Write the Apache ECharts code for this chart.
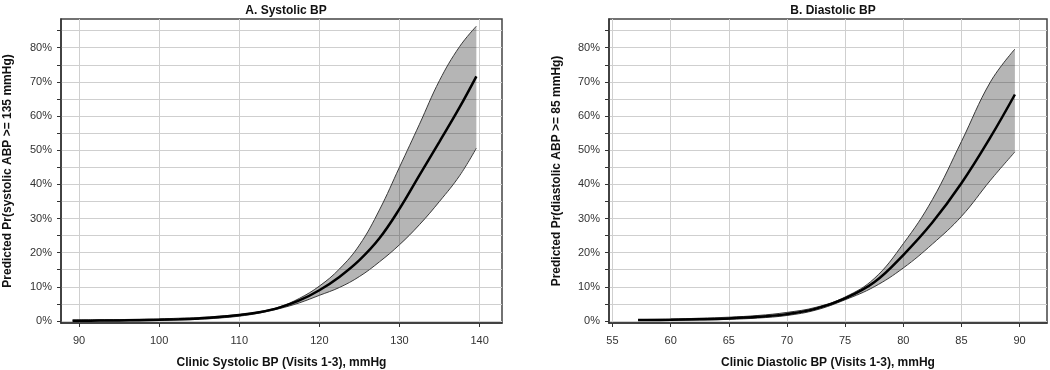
<!DOCTYPE html>
<html><head><meta charset="utf-8">
<script src="https://cdn.jsdelivr.net/npm/echarts@6/dist/echarts.min.js"></script>
<style>html,body{margin:0;padding:0;background:#fff}#c{width:1050px;height:370px}</style>
</head><body><div id="c"></div>
<script>
// Panel A: systolic
const sysX     = [89.2, 92.5, 95, 97.5, 100, 102.5, 105, 107.5, 110, 112.5, 115, 117.5, 120, 122.5, 125, 127.5, 130, 132.5, 135, 137.5, 139.6];
const sysMean  = [0.06, 0.1, 0.14, 0.22, 0.33, 0.5, 0.75, 1.13, 1.71, 2.56, 3.9, 6.0, 9.0, 12.9, 17.8, 24.2, 32.8, 42.7, 52.5, 62.5, 71.6];
const sysUpper = [0.3, 0.35, 0.4, 0.5, 0.6, 0.8, 1.0, 1.4, 1.9, 2.7, 4.1, 6.6, 10.2, 15.2, 22.2, 32.5, 45.0, 57.6, 70.4, 80.3, 86.3];
const sysLower = [0.03, 0.04, 0.07, 0.12, 0.2, 0.32, 0.5, 0.85, 1.4, 2.3, 3.6, 5.3, 7.5, 9.8, 13.0, 17.3, 22.3, 28.2, 35.0, 42.5, 50.6];
// Panel B: diastolic
const diaX     = [57.2, 60, 62.5, 65, 67.5, 70, 72.5, 75, 77.5, 80, 82.5, 85, 87.5, 89.6];
const diaMean  = [0.25, 0.35, 0.5, 0.75, 1.2, 2.0, 3.6, 6.6, 11.3, 19.3, 28.8, 40.3, 53.8, 66.3];
const diaUpper = [0.4, 0.55, 0.8, 1.1, 1.6, 2.5, 4.0, 7.0, 12.4, 22.6, 35.5, 52.5, 70.0, 79.6];
const diaLower = [0.15, 0.22, 0.32, 0.48, 0.85, 1.6, 3.2, 6.2, 10.0, 15.5, 22.5, 30.6, 41.2, 49.5];

// Tick values
const sysXTicks = [90, 100, 110, 120, 130, 140];
const diaXTicks = [55, 60, 65, 70, 75, 80, 85, 90];
const yTicks = [0, 10, 20, 30, 40, 50, 60, 70, 80];
const yAllTicks = [0, 5, 10, 15, 20, 25, 30, 35, 40, 45, 50, 55, 60, 65, 70, 75, 80, 85];

const titles = ['A. Systolic BP', 'B. Diastolic BP'];
const xNames = ['Clinic Systolic BP (Visits 1-3), mmHg', 'Clinic Diastolic BP (Visits 1-3), mmHg'];
const yNames = ['Predicted Pr(systolic ABP >= 135 mmHg)', 'Predicted Pr(diastolic ABP >= 85 mmHg)'];

const FONT = 'Liberation Sans, Arial, sans-serif';
// data stored as [y, x] and mapped via encode so that stacking acts on y
const zipYX = (xs, ys) => xs.map((x, i) => [ys[i], x]);
const diffYX = (xs, a, b) => xs.map((x, i) => [+(a[i] - b[i]).toFixed(3), x]);

const grids = [
  {left: 61, top: 19, right: 548, bottom: 47},
  {left: 609, top: 19, right: 3, bottom: 47}
].map(g => Object.assign(g, {show: true, borderColor: '#444', borderWidth: 1.5, backgroundColor: '#fff',
                              containLabel: false, outerBoundsMode: 'none'}));

const xRanges = [{min: 87.75, max: 142.8, ticks: sysXTicks}, {min: 54.7, max: 92.36, ticks: diaXTicks}];

const xAxes = xRanges.map((r, i) => ({
  type: 'value', gridIndex: i, min: r.min, max: r.max,
  name: xNames[i], nameLocation: 'middle', nameGap: 34,
  nameTextStyle: {fontFamily: FONT, fontSize: 12, fontWeight: 'bold', color: '#111'},
  axisLine: {show: true, onZero: false, lineStyle: {color: '#333', width: 1.5}},
  axisTick: {show: true, inside: false, length: 4, customValues: r.ticks, lineStyle: {color: '#333'}},
  axisLabel: {fontFamily: FONT, fontSize: 11, color: '#333', margin: 12, customValues: r.ticks},
  splitLine: {show: true, customValues: r.ticks, lineStyle: {color: '#cfcfcf', width: 1}}
}));

const yAxes = [0, 1].map(i => ({
  type: 'value', gridIndex: i, min: -0.6, max: 88.4,
  name: yNames[i], nameLocation: 'middle', nameGap: i === 0 ? 47 : 46,
  nameTextStyle: {fontFamily: FONT, fontSize: 12, fontWeight: 'bold', color: '#111'},
  axisLine: {show: true, lineStyle: {color: '#333', width: 1.5}},
  axisTick: {show: true, inside: false, length: 4, customValues: yAllTicks, lineStyle: {color: '#333'}},
  axisLabel: {fontFamily: FONT, fontSize: 11, color: '#333', margin: 9, formatter: '{value}%', customValues: yTicks},
  splitLine: {show: true, customValues: yTicks, lineStyle: {color: '#cfcfcf', width: 1}}
}));

function bandSeries(idx, xs, lower, upper, mean) {
  const stack = 'band' + idx;
  const common = {type: 'line', xAxisIndex: idx, yAxisIndex: idx, smooth: 0.4, symbol: 'none', silent: true,
                  encode: {x: 1, y: 0}};
  return [
    Object.assign({}, common, {stack, data: zipYX(xs, lower), lineStyle: {color: '#3a3a3a', width: 1}, z: 2}),
    Object.assign({}, common, {stack, data: diffYX(xs, upper, lower), lineStyle: {color: '#3a3a3a', width: 1},
      areaStyle: {color: '#000', opacity: 0.29}, z: 2}),
    Object.assign({}, common, {data: zipYX(xs, mean), lineStyle: {color: '#000', width: 2.5}, z: 3})
  ];
}

const chart = echarts.init(document.getElementById('c'), null, {renderer: 'canvas'});
chart.setOption({
  animation: false,
  backgroundColor: '#fff',
  title: titles.map((t, i) => ({
    text: t, left: i === 0 ? 281 : 828, top: 0, textAlign: 'center',
    textStyle: {fontFamily: FONT, fontSize: 12, fontWeight: 'bold', color: '#111'}
  })),
  grid: grids,
  xAxis: xAxes,
  yAxis: yAxes,
  series: [
    ...bandSeries(0, sysX, sysLower, sysUpper, sysMean),
    ...bandSeries(1, diaX, diaLower, diaUpper, diaMean)
  ]
});
</script></body></html>
